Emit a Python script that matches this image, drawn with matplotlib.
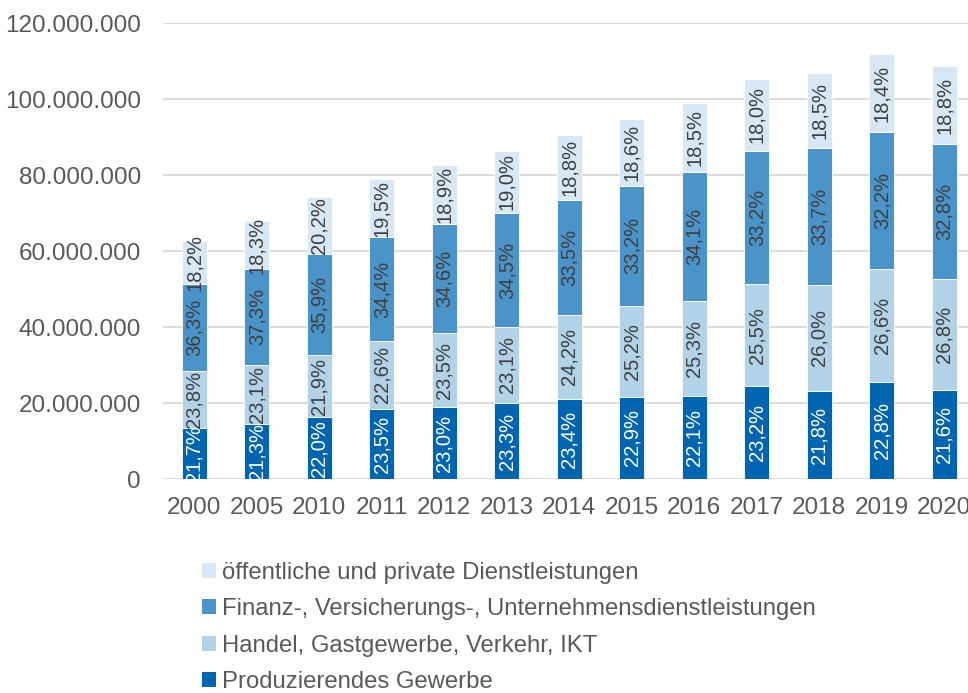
import matplotlib
matplotlib.use("Agg")
import matplotlib.pyplot as plt
from matplotlib.ticker import FuncFormatter, MultipleLocator
from matplotlib.patches import Patch
import numpy as np

plt.rcParams['font.family'] = ['Liberation Sans', 'DejaVu Sans']

years = ["2000", "2005", "2010", "2011", "2012", "2013", "2014", "2015",
         "2016", "2017", "2018", "2019", "2020"]
# total height of each stacked bar
totals = [62.7e6, 67.8e6, 74.3e6, 79.0e6, 82.7e6, 86.5e6, 90.7e6, 94.9e6,
          99.0e6, 105.4e6, 106.8e6, 111.8e6, 108.6e6]
# shares in percent (bar labels)
produzierend = [21.7, 21.3, 22.0, 23.5, 23.0, 23.3, 23.4, 22.9, 22.1, 23.2, 21.8, 22.8, 21.6]
handel = [23.8, 23.1, 21.9, 22.6, 23.5, 23.1, 24.2, 25.2, 25.3, 25.5, 26.0, 26.6, 26.8]
finanz = [36.3, 37.3, 35.9, 34.4, 34.6, 34.5, 33.5, 33.2, 34.1, 33.2, 33.7, 32.2, 32.8]
oeffentlich = [18.2, 18.3, 20.2, 19.5, 18.9, 19.0, 18.8, 18.6, 18.5, 18.0, 18.5, 18.4, 18.8]

series_names = ["Produzierendes Gewerbe",
                "Handel, Gastgewerbe, Verkehr, IKT",
                "Finanz-, Versicherungs-, Unternehmensdienstleistungen",
                "öffentliche und private Dienstleistungen"]
colors = ["#0065b1", "#b2d2e8", "#4b94c9", "#d7e7f4"]
label_colors = ["white", "#404040", "#404040", "#404040"]

shares = [produzierend, handel, finanz, oeffentlich]

fig = plt.figure(figsize=(9.68, 6.93), dpi=100)
ax = fig.add_axes([163/968, (693-479.3)/693, (975.5-163)/968, (479.3-23)/693])

x = np.arange(len(years))
tot = np.array(totals)
bottom = np.zeros(len(years))
for name, sh, col, lc in zip(series_names, shares, colors, label_colors):
    sh = np.array(sh)
    vals = tot * sh / 100.0
    ax.bar(x, vals, width=0.4, bottom=bottom, color=col, edgecolor="white",
           linewidth=0.6, label=name, zorder=3)
    for xi, b, v, s in zip(x, bottom, vals, sh):
        ax.text(xi, b + v / 2, f"{s:.1f}%".replace(".", ","), rotation=90,
                ha="center", va="center", color=lc, fontsize=14.5, zorder=4)
    bottom = bottom + vals

ax.set_xlim(-0.5, len(years) - 0.5)
ax.set_ylim(0, 120e6)
ax.yaxis.set_major_locator(MultipleLocator(20e6))
ax.yaxis.set_major_formatter(FuncFormatter(lambda v, p: f"{int(round(v)):,}".replace(",", ".")))
ax.set_xticks(x)
ax.set_xticklabels(years)
ax.tick_params(axis="both", length=0, labelsize=17.5, labelcolor="#595959")
ax.tick_params(axis="y", pad=16)
ax.tick_params(axis="x", pad=13)
ax.grid(axis="y", color="#d9d9d9", linewidth=1.3, zorder=0)
for s in ax.spines.values():
    s.set_visible(False)

handles = [Patch(facecolor=c, edgecolor="none") for c in colors]
order = [3, 2, 1, 0]
fig.legend([handles[i] for i in order], [series_names[i] for i in order],
           loc="upper left", bbox_to_anchor=(202/968, 1 - 562/693),
           frameon=False, fontsize=17.2, handlelength=0.58, handleheight=0.58,
           handletextpad=0.25, labelspacing=0.6, labelcolor="#595959",
           borderpad=0, borderaxespad=0)

fig.savefig("out.png", dpi=100)
